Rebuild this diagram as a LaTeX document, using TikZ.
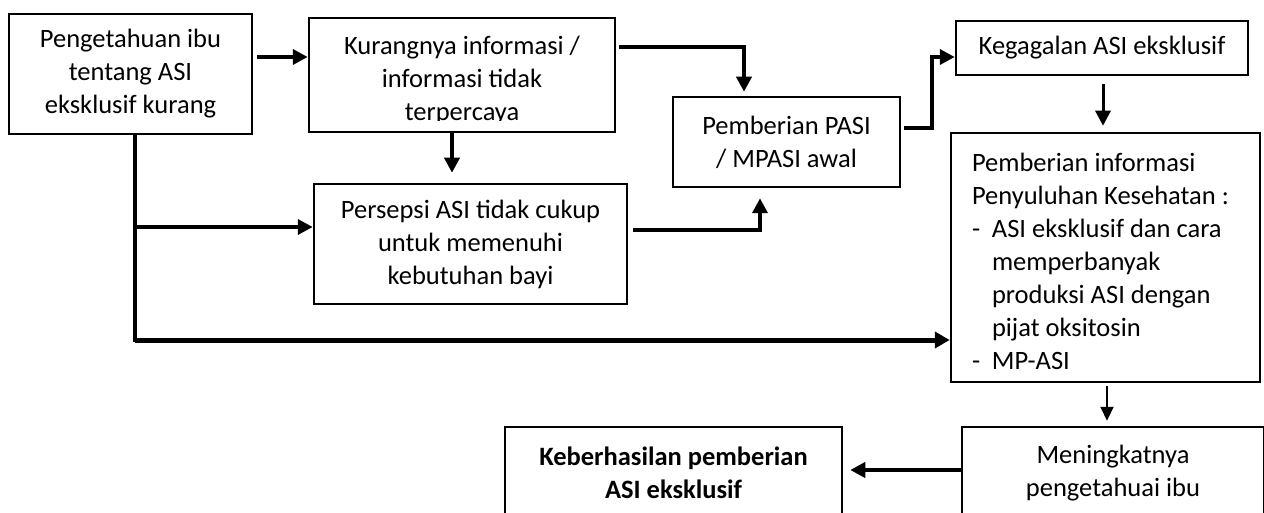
\documentclass[tikz,border=0pt]{standalone}
\usepackage{fontspec}
\setmainfont{Carlito}
\usetikzlibrary{arrows.meta,calc}
\begin{document}
\begin{tikzpicture}[x=1pt,y=-1pt,
  box/.style={draw,line width=2.5pt,inner sep=0pt,align=center,font=\fontsize{26.5}{33}\selectfont},
  txt/.style={inner sep=0pt,align=center,font=\fontsize{26.5}{33}\selectfont},
  arr/.style={line width=4pt,-{Triangle[length=15pt,width=15pt]}},
  thinarr/.style={line width=2.2pt,-{Triangle[length=14pt,width=13pt]}},
]
\clip (0,0) rectangle (1264,513);
\fill[white] (0,0) rectangle (1264,513);
% boxes
\node[box,minimum width=243pt,minimum height=120pt] (A) at (130.5,74) {Pengetahuan ibu\\tentang ASI\\eksklusif kurang};
\node[box,minimum width=306pt,minimum height=114pt] (B) at (462,75) {};
\begin{scope}
  \clip ($(B.north west)+(2,2)$) rectangle ($(B.south east)+(-2,-13)$);
  \node[txt] (Bt) at (462,80) {Kurangnya informasi /\\informasi tidak\\terpercaya};
\end{scope}
\node[box,minimum width=313pt,minimum height=120pt] (C) at (470.5,244) {Persepsi ASI tidak cukup\\untuk memenuhi\\kebutuhan bayi};
\node[box,minimum width=227pt,minimum height=90pt] (D) at (786.5,142) {Pemberian PASI\\/ MPASI awal};
\node[box,minimum width=292pt,minimum height=54pt] (E) at (1102,48) {Kegagalan ASI eksklusif};
\node[box,minimum width=309pt,minimum height=249pt,text width=267pt,align=flush left] (F) at (1105.5,257.5) {\rule{0pt}{26pt}Pemberian informasi\\
Penyuluhan Kesehatan :\\
\makebox[20pt][l]{-}ASI eksklusif dan cara\\
\hspace*{20pt}memperbanyak\\
\hspace*{20pt}produksi ASI dengan\\
\hspace*{20pt}pijat oksitosin\\
\makebox[20pt][l]{-}MP-ASI};
\node[box,minimum width=302pt,minimum height=92pt] (G) at (1113,473) {Meningkatnya\\pengetahuai ibu};
\node[box,minimum width=337pt,minimum height=92pt,font=\fontsize{26.5}{33}\selectfont\bfseries] (H) at (673.5,473) {Keberhasilan pemberian\\ASI eksklusif};
% junction on the line below A
\coordinate (jA) at ($(A.south)+(4.5,0)$);
\coordinate (Cin) at ($(C.west)+(0,-17)$);
% connectors
\draw[arr] ($(A.east)+(4,-17)$) -- ($(B.west)+(0,-18)$);
\draw[arr] ($(B.south)+(-10,0)$) -- ($(C.north)+(-18.5,-10)$);
\draw[arr] ($(B.east)+(3,-28)$) -| ($(D.north)+(-42.5,-4)$);
\draw[arr] ($(C.east)+(5,-14)$) -| ($(D.south)+(-26.5,10)$);
\draw[arr] ($(D.east)+(3,-14)$) -- ++(28,0) |- (E.west |- 0,57);
\draw[line width=3pt,-{Triangle[length=15pt,width=15pt]}] ($(E.south)+(1,8)$) -- ($(F.north)+(-2.5,-6)$);
\draw[line width=4pt] (jA) -- (jA |- 0,342);
\draw[arr] (jA |- Cin) -- (Cin);
\draw[line width=5pt,-{Triangle[length=15pt,width=16pt]}] (jA |- 0,340) -- (F.west |- 0,340);
\draw[thinarr] ($(F.south)+(1.5,3)$) -- ($(G.north)+(-6,-5)$);
\draw[arr] ($(G.west)+(0,-3)$) -- ($(H.east)+(7,-3)$);
\end{tikzpicture}
\end{document}
